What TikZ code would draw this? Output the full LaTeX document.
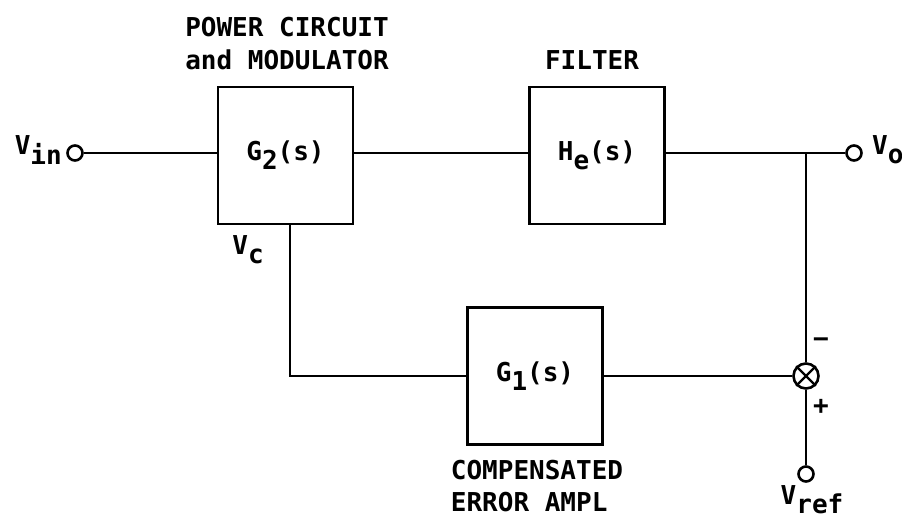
\documentclass[tikz,border=0pt]{standalone}
\usepackage{fontspec}
\newfontfamily\lbl{DejaVu Sans Mono}
\newcommand{\sbs}[1]{\raisebox{-0.35em}{#1}}
\tikzset{
  blk/.style={draw, line width=2.6pt, minimum width=135pt, minimum height=137pt, inner sep=0pt, font=\lbl\bfseries\fontsize{26}{30}\selectfont},
  term/.style={draw, circle, line width=2.6pt, fill=white, minimum size=15pt, inner sep=0pt},
  txt/.style={font=\lbl\bfseries\fontsize{26}{30}\selectfont, inner sep=0pt},
  wire/.style={line width=2.6pt}
}
\begin{document}
\begin{tikzpicture}[x=1pt,y=-1pt]
\useasboundingbox (0,0) rectangle (902,521);
\node[blk] (g2) at (285.5,155.5) {G\sbs{2}(s)};
\node[blk] (h) at (597,155.5) {H\sbs{e}(s)};
\node[blk] (g1) at (535,376) {G\sbs{1}(s)};
\node[term] (vin) at (75,153) {};
\node[term] (vo) at (854,153) {};
\node[term] (vref) at (806,474) {};
\node[draw, circle, line width=2.6pt, minimum size=25pt, inner sep=0pt] (sum) at (806,376) {};
\draw[line width=2.2pt] (sum.45) -- (sum.225) (sum.135) -- (sum.315);
\coordinate (j) at (806,153);
\coordinate (vc) at ([xshift=4.5pt]g2.south);
\draw[wire] (vin.east) -- (vin -| g2.west);
\draw[wire] (vin -| g2.east) -- (vin -| h.west);
\draw[wire] (vin -| h.east) -- (j) -- (vo.west);
\draw[wire] (j) -- (sum.north);
\draw[wire] (sum.west) -- (g1.east);
\draw[wire] (g1.west) -| (vc);
\draw[wire] (sum.south) -- (vref.north);
\node[txt] (t1) at (287,27) {POWER CIRCUIT};
\node[txt] (t2) at (287,60) {and MODULATOR};
\node[txt] (t3) at (592,60) {FILTER};
\node[txt] (t4) at (537,470) {COMPENSATED};
\node[txt, anchor=west] (t5) at (t4.west |- 0,502) {ERROR AMPL};
\node[txt] (lvc) at (248,250) {V\sbs{c}};
\node[txt, anchor=east] (lvin) at (62,150) {V\sbs{in}};
\node[txt, anchor=west] (lvo) at (872,150) {V\sbs{o}};
\node[txt] (lvref) at (812,500) {V\sbs{ref}};
\node[txt] (minus) at (821,343) {−};
\node[txt] (plus) at (821,407) {+};
\end{tikzpicture}
\end{document}
